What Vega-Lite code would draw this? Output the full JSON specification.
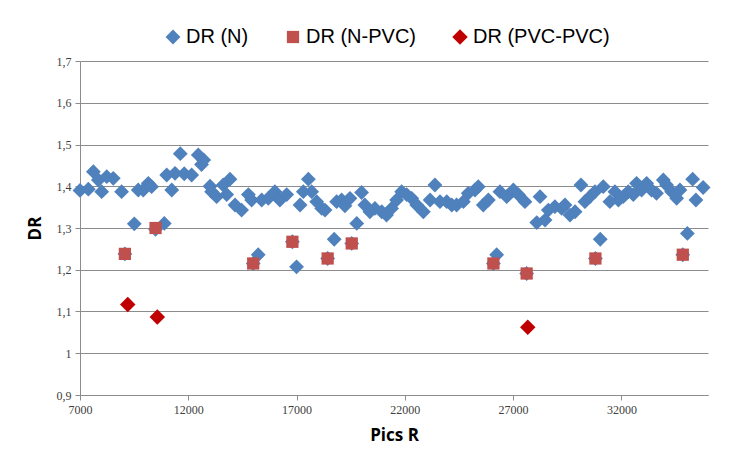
{
  "$schema": "https://vega.github.io/schema/vega-lite/v6.json",
  "width": 628,
  "height": 334,
  "autosize": {"type": "none"},
  "padding": {"left": 80, "top": 61, "right": 47, "bottom": 64},
  "background": "white",
  "config": {
    "view": {"stroke": null},
    "axis": {
      "labelFont": "Liberation Serif",
      "labelFontSize": 12,
      "labelColor": "#404040",
      "titleFont": "Open Sans",
      "titleFontWeight": "bold",
      "titleFontSize": 17,
      "titleColor": "#000000",
      "domainColor": "#8c8c8c",
      "tickColor": "#8c8c8c",
      "gridColor": "#8c8c8c",
      "tickSize": 5,
      "labelFlush": false
    },
    "legend": {
      "labelFont": "Liberation Sans",
      "labelFontSize": 20,
      "labelColor": "#000000",
      "symbolStrokeWidth": 0
    }
  },
  "data": {
    "values": [
      {"pics": 7000, "dr": 1.39, "series": "DR (N)"},
      {"pics": 7384, "dr": 1.393, "series": "DR (N)"},
      {"pics": 7617, "dr": 1.435, "series": "DR (N)"},
      {"pics": 7849, "dr": 1.415, "series": "DR (N)"},
      {"pics": 8001, "dr": 1.387, "series": "DR (N)"},
      {"pics": 8234, "dr": 1.423, "series": "DR (N)"},
      {"pics": 8537, "dr": 1.419, "series": "DR (N)"},
      {"pics": 8921, "dr": 1.387, "series": "DR (N)"},
      {"pics": 9073, "dr": 1.238, "series": "DR (N)"},
      {"pics": 9508, "dr": 1.31, "series": "DR (N)"},
      {"pics": 9690, "dr": 1.391, "series": "DR (N)"},
      {"pics": 9922, "dr": 1.391, "series": "DR (N)"},
      {"pics": 10155, "dr": 1.407, "series": "DR (N)"},
      {"pics": 10306, "dr": 1.399, "series": "DR (N)"},
      {"pics": 10488, "dr": 1.297, "series": "DR (N)"},
      {"pics": 10893, "dr": 1.311, "series": "DR (N)"},
      {"pics": 11004, "dr": 1.427, "series": "DR (N)"},
      {"pics": 11237, "dr": 1.391, "series": "DR (N)"},
      {"pics": 11388, "dr": 1.431, "series": "DR (N)"},
      {"pics": 11631, "dr": 1.478, "series": "DR (N)"},
      {"pics": 11813, "dr": 1.43, "series": "DR (N)"},
      {"pics": 12157, "dr": 1.427, "series": "DR (N)"},
      {"pics": 12460, "dr": 1.475, "series": "DR (N)"},
      {"pics": 12612, "dr": 1.452, "series": "DR (N)"},
      {"pics": 12713, "dr": 1.463, "series": "DR (N)"},
      {"pics": 13006, "dr": 1.4, "series": "DR (N)"},
      {"pics": 13077, "dr": 1.387, "series": "DR (N)"},
      {"pics": 13309, "dr": 1.375, "series": "DR (N)"},
      {"pics": 13613, "dr": 1.403, "series": "DR (N)"},
      {"pics": 13774, "dr": 1.38, "series": "DR (N)"},
      {"pics": 13926, "dr": 1.417, "series": "DR (N)"},
      {"pics": 14159, "dr": 1.355, "series": "DR (N)"},
      {"pics": 14462, "dr": 1.343, "series": "DR (N)"},
      {"pics": 14775, "dr": 1.38, "series": "DR (N)"},
      {"pics": 14927, "dr": 1.367, "series": "DR (N)"},
      {"pics": 14998, "dr": 1.215, "series": "DR (N)"},
      {"pics": 15230, "dr": 1.236, "series": "DR (N)"},
      {"pics": 15392, "dr": 1.367, "series": "DR (N)"},
      {"pics": 15695, "dr": 1.371, "series": "DR (N)"},
      {"pics": 15999, "dr": 1.387, "series": "DR (N)"},
      {"pics": 16231, "dr": 1.367, "series": "DR (N)"},
      {"pics": 16545, "dr": 1.38, "series": "DR (N)"},
      {"pics": 16808, "dr": 1.267, "series": "DR (N)"},
      {"pics": 17000, "dr": 1.207, "series": "DR (N)"},
      {"pics": 17162, "dr": 1.355, "series": "DR (N)"},
      {"pics": 17313, "dr": 1.387, "series": "DR (N)"},
      {"pics": 17546, "dr": 1.417, "series": "DR (N)"},
      {"pics": 17697, "dr": 1.387, "series": "DR (N)"},
      {"pics": 17930, "dr": 1.363, "series": "DR (N)"},
      {"pics": 18163, "dr": 1.347, "series": "DR (N)"},
      {"pics": 18314, "dr": 1.343, "series": "DR (N)"},
      {"pics": 18436, "dr": 1.227, "series": "DR (N)"},
      {"pics": 18739, "dr": 1.273, "series": "DR (N)"},
      {"pics": 18850, "dr": 1.363, "series": "DR (N)"},
      {"pics": 19083, "dr": 1.367, "series": "DR (N)"},
      {"pics": 19234, "dr": 1.353, "series": "DR (N)"},
      {"pics": 19467, "dr": 1.371, "series": "DR (N)"},
      {"pics": 19548, "dr": 1.263, "series": "DR (N)"},
      {"pics": 19780, "dr": 1.311, "series": "DR (N)"},
      {"pics": 20003, "dr": 1.385, "series": "DR (N)"},
      {"pics": 20154, "dr": 1.355, "series": "DR (N)"},
      {"pics": 20387, "dr": 1.339, "series": "DR (N)"},
      {"pics": 20620, "dr": 1.347, "series": "DR (N)"},
      {"pics": 20933, "dr": 1.339, "series": "DR (N)"},
      {"pics": 21155, "dr": 1.331, "series": "DR (N)"},
      {"pics": 21388, "dr": 1.347, "series": "DR (N)"},
      {"pics": 21620, "dr": 1.367, "series": "DR (N)"},
      {"pics": 21853, "dr": 1.387, "series": "DR (N)"},
      {"pics": 22086, "dr": 1.38, "series": "DR (N)"},
      {"pics": 22318, "dr": 1.371, "series": "DR (N)"},
      {"pics": 22551, "dr": 1.355, "series": "DR (N)"},
      {"pics": 22854, "dr": 1.339, "series": "DR (N)"},
      {"pics": 23167, "dr": 1.367, "series": "DR (N)"},
      {"pics": 23390, "dr": 1.403, "series": "DR (N)"},
      {"pics": 23622, "dr": 1.363, "series": "DR (N)"},
      {"pics": 23936, "dr": 1.363, "series": "DR (N)"},
      {"pics": 24168, "dr": 1.355, "series": "DR (N)"},
      {"pics": 24391, "dr": 1.355, "series": "DR (N)"},
      {"pics": 24704, "dr": 1.363, "series": "DR (N)"},
      {"pics": 24927, "dr": 1.383, "series": "DR (N)"},
      {"pics": 25240, "dr": 1.391, "series": "DR (N)"},
      {"pics": 25392, "dr": 1.399, "series": "DR (N)"},
      {"pics": 25624, "dr": 1.355, "series": "DR (N)"},
      {"pics": 25857, "dr": 1.367, "series": "DR (N)"},
      {"pics": 26090, "dr": 1.215, "series": "DR (N)"},
      {"pics": 26241, "dr": 1.236, "series": "DR (N)"},
      {"pics": 26393, "dr": 1.387, "series": "DR (N)"},
      {"pics": 26706, "dr": 1.375, "series": "DR (N)"},
      {"pics": 27010, "dr": 1.391, "series": "DR (N)"},
      {"pics": 27242, "dr": 1.38, "series": "DR (N)"},
      {"pics": 27546, "dr": 1.363, "series": "DR (N)"},
      {"pics": 27626, "dr": 1.191, "series": "DR (N)"},
      {"pics": 28092, "dr": 1.313, "series": "DR (N)"},
      {"pics": 28243, "dr": 1.375, "series": "DR (N)"},
      {"pics": 28476, "dr": 1.319, "series": "DR (N)"},
      {"pics": 28627, "dr": 1.343, "series": "DR (N)"},
      {"pics": 28931, "dr": 1.351, "series": "DR (N)"},
      {"pics": 29244, "dr": 1.347, "series": "DR (N)"},
      {"pics": 29396, "dr": 1.355, "series": "DR (N)"},
      {"pics": 29628, "dr": 1.331, "series": "DR (N)"},
      {"pics": 29861, "dr": 1.339, "series": "DR (N)"},
      {"pics": 30134, "dr": 1.403, "series": "DR (N)"},
      {"pics": 30316, "dr": 1.363, "series": "DR (N)"},
      {"pics": 30549, "dr": 1.375, "series": "DR (N)"},
      {"pics": 30781, "dr": 1.387, "series": "DR (N)"},
      {"pics": 30801, "dr": 1.227, "series": "DR (N)"},
      {"pics": 31024, "dr": 1.273, "series": "DR (N)"},
      {"pics": 31165, "dr": 1.399, "series": "DR (N)"},
      {"pics": 31469, "dr": 1.363, "series": "DR (N)"},
      {"pics": 31701, "dr": 1.387, "series": "DR (N)"},
      {"pics": 31863, "dr": 1.367, "series": "DR (N)"},
      {"pics": 32085, "dr": 1.375, "series": "DR (N)"},
      {"pics": 32318, "dr": 1.387, "series": "DR (N)"},
      {"pics": 32551, "dr": 1.38, "series": "DR (N)"},
      {"pics": 32702, "dr": 1.407, "series": "DR (N)"},
      {"pics": 32935, "dr": 1.391, "series": "DR (N)"},
      {"pics": 33167, "dr": 1.407, "series": "DR (N)"},
      {"pics": 33390, "dr": 1.391, "series": "DR (N)"},
      {"pics": 33622, "dr": 1.383, "series": "DR (N)"},
      {"pics": 33936, "dr": 1.415, "series": "DR (N)"},
      {"pics": 34087, "dr": 1.403, "series": "DR (N)"},
      {"pics": 34320, "dr": 1.387, "series": "DR (N)"},
      {"pics": 34553, "dr": 1.371, "series": "DR (N)"},
      {"pics": 34704, "dr": 1.391, "series": "DR (N)"},
      {"pics": 34836, "dr": 1.236, "series": "DR (N)"},
      {"pics": 35048, "dr": 1.287, "series": "DR (N)"},
      {"pics": 35291, "dr": 1.417, "series": "DR (N)"},
      {"pics": 35442, "dr": 1.367, "series": "DR (N)"},
      {"pics": 35776, "dr": 1.397, "series": "DR (N)"},
      {"pics": 9073, "dr": 1.238, "series": "DR (N-PVC)"},
      {"pics": 10488, "dr": 1.3, "series": "DR (N-PVC)"},
      {"pics": 14998, "dr": 1.215, "series": "DR (N-PVC)"},
      {"pics": 16808, "dr": 1.267, "series": "DR (N-PVC)"},
      {"pics": 18436, "dr": 1.227, "series": "DR (N-PVC)"},
      {"pics": 19548, "dr": 1.263, "series": "DR (N-PVC)"},
      {"pics": 26090, "dr": 1.215, "series": "DR (N-PVC)"},
      {"pics": 27626, "dr": 1.191, "series": "DR (N-PVC)"},
      {"pics": 30801, "dr": 1.227, "series": "DR (N-PVC)"},
      {"pics": 34836, "dr": 1.236, "series": "DR (N-PVC)"},
      {"pics": 9204, "dr": 1.117, "series": "DR (PVC-PVC)"},
      {"pics": 10569, "dr": 1.087, "series": "DR (PVC-PVC)"},
      {"pics": 27677, "dr": 1.062, "series": "DR (PVC-PVC)"}
    ]
  },
  "mark": {"type": "point", "filled": true, "opacity": 1},
  "encoding": {
    "x": {
      "field": "pics",
      "type": "quantitative",
      "title": "Pics R",
      "scale": {"domain": [7000, 36000], "nice": false, "zero": false},
      "axis": {
        "values": [7000, 12000, 17000, 22000, 27000, 32000],
        "format": "d",
        "grid": false,
        "titlePadding": 12,
        "labelPadding": 4
      }
    },
    "y": {
      "field": "dr",
      "type": "quantitative",
      "title": "DR",
      "scale": {"domain": [0.9, 1.7], "nice": false, "zero": false},
      "axis": {
        "values": [0.9, 1.0, 1.1, 1.2, 1.3, 1.4, 1.5, 1.6, 1.7],
        "labelExpr": "replace(format(datum.value, '.1~f'), '.', ',')",
        "grid": true,
        "titlePadding": 12,
        "labelPadding": 4
      }
    },
    "color": {
      "field": "series",
      "type": "nominal",
      "scale": {"domain": ["DR (N)", "DR (N-PVC)", "DR (PVC-PVC)"], "range": ["#4F81BD", "#C0504D", "#C00000"]},
      "legend": {
        "title": null,
        "orient": "none",
        "direction": "horizontal",
        "legendX": 83,
        "legendY": -34,
        "columnPadding": 34,
        "labelOffset": 3
      }
    },
    "shape": {
      "field": "series",
      "type": "nominal",
      "scale": {"domain": ["DR (N)", "DR (N-PVC)", "DR (PVC-PVC)"], "range": ["diamond", "square", "diamond"]}
    },
    "size": {
      "field": "series",
      "type": "nominal",
      "scale": {"type": "ordinal", "domain": ["DR (N)", "DR (N-PVC)", "DR (PVC-PVC)"], "range": [220, 150, 240]},
      "legend": null
    }
  }
}
